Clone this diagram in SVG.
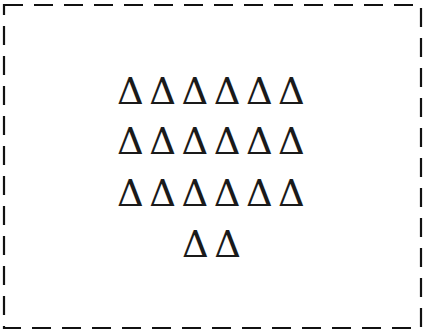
<svg xmlns="http://www.w3.org/2000/svg" width="425" height="333" viewBox="0 0 425 333">
<style>
.t{font-family:"DejaVu Serif",serif;font-size:37px;fill:#1a1a1a;letter-spacing:5.5px}
</style>
<rect width="425" height="333" fill="#fff"/>
<rect x="4" y="5" width="417" height="323" fill="none" stroke="#111" stroke-width="2.2" stroke-dasharray="19 11"/>
<g id="text">
<text class="t" x="117" y="104">ΔΔΔΔΔΔ</text>
<text class="t" x="117" y="154">ΔΔΔΔΔΔ</text>
<text class="t" x="117" y="206">ΔΔΔΔΔΔ</text>
<text class="t" x="182" y="257">ΔΔ</text>
</g>
</svg>
